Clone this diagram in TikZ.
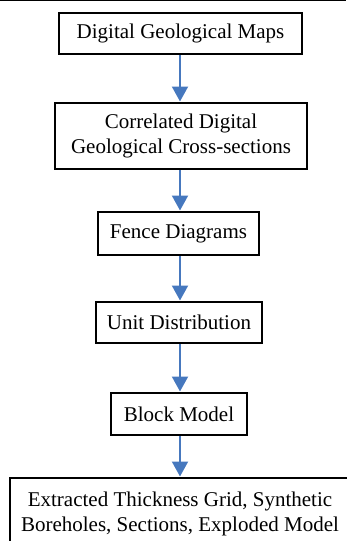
\documentclass[tikz,border=0pt]{standalone}
\usepackage{fontspec}
\setmainfont{Liberation Serif}
\usetikzlibrary{arrows.meta}
\definecolor{arrowblue}{RGB}{70,120,190}
\tikzset{
  box/.style={draw=black, line width=2pt, fill=white, align=center, inner sep=0pt,
    font=\fontsize{21pt}{25pt}\selectfont},
  flow/.style={draw=arrowblue, line width=2pt, -{Triangle[width=16pt,length=15pt]}, shorten >=0.5pt}
}
\begin{document}
\begin{tikzpicture}[x=1pt,y=1pt]
\useasboundingbox (0,0) rectangle (346,-541);
\draw[line width=1.2pt] (0,-0.6) -- (346,-0.6);
\node[box, minimum width=243pt, minimum height=41pt] (b1) at (180.5,-33.5) {Digital Geological Maps};
\node[box, minimum width=252pt, minimum height=66pt] (b2) at (181,-136) {Correlated Digital\\Geological Cross-sections};
\node[box, minimum width=161pt, minimum height=43pt] (b3) at (178.5,-233.5) {Fence Diagrams};
\node[box, minimum width=166pt, minimum height=41pt] (b4) at (179,-322.5) {Unit Distribution};
\node[box, minimum width=136pt, minimum height=42pt] (b5) at (179,-414) {Block Model};
\node[box, minimum width=340pt, minimum height=71pt] (b6) at (180,-513.5) {Extracted Thickness Grid, Synthetic\\Boreholes, Sections, Exploded Model};
\draw[flow] (b1.south -| 180,0) -- (b2.north -| 180,0);
\draw[flow] (b2.south -| 180,0) -- (b3.north -| 180,0);
\draw[flow] (b3.south -| 180,0) -- (b4.north -| 180,0);
\draw[flow] (b4.south -| 180,0) -- (b5.north -| 180,0);
\draw[flow] (b5.south -| 180,0) -- (b6.north -| 180,0);
\end{tikzpicture}
\end{document}
